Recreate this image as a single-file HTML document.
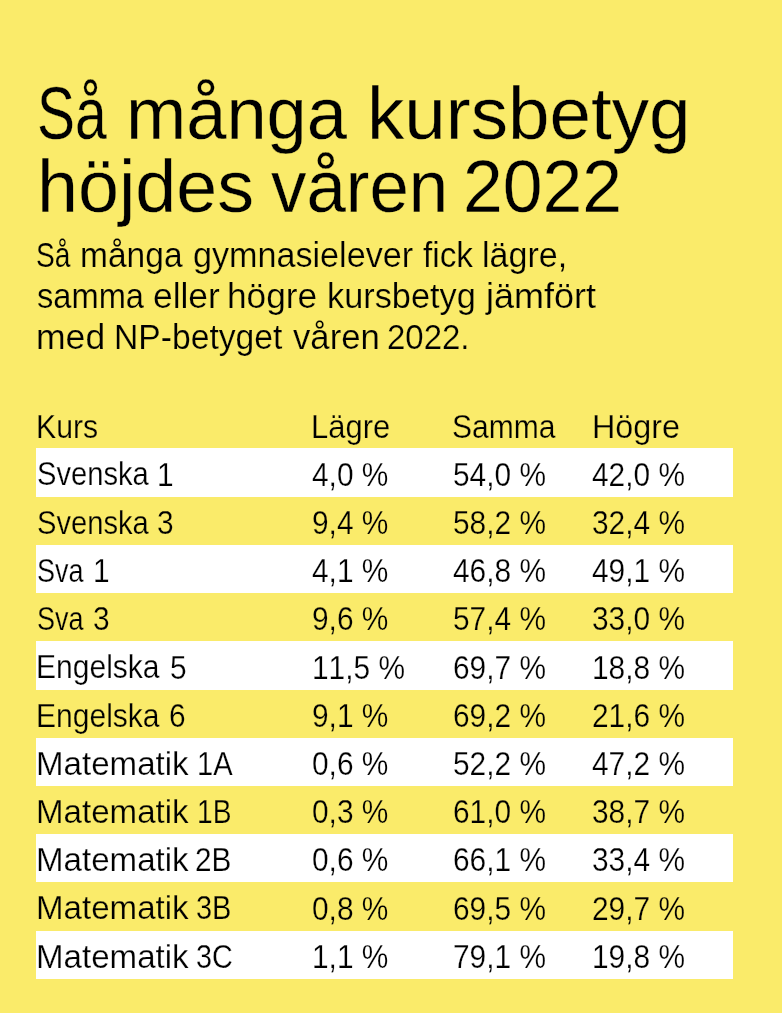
<!DOCTYPE html>
<html lang="sv"><head><meta charset="utf-8"><title>Så många kursbetyg höjdes våren 2022</title>
<style>
html,body{margin:0;padding:0}
body{width:782px;height:1013px;background:#faeb6a;position:relative;overflow:hidden;font-family:"Liberation Sans", sans-serif;color:#000}
h1,p{margin:0;padding:0;font-weight:400;font-size:0}
h1{-webkit-text-stroke:0.3px #faeb6a}
p{-webkit-text-stroke:0.2px #faeb6a}
.t{position:absolute;white-space:nowrap;line-height:1;transform-origin:0 0;display:block;font-weight:400}
.n{font-kerning:none}
.tbl{position:absolute;left:0;top:0;font-size:0}
.row{position:absolute;left:36.0px;width:697.3px;height:48.45px;-webkit-text-stroke:0.25px #faeb6a}
.row.wh{background:#fff;-webkit-text-stroke-color:#fff}
.c{position:absolute;left:0;top:0}
</style></head><body>
<h1><span class="t" style="left:37.12px;top:76.97px;font-size:73.5px;transform:scaleX(0.7740)">Så</span> <span class="t" style="left:126.20px;top:76.97px;font-size:73.5px;transform:scaleX(0.9834)">många</span> <span class="t" style="left:367.27px;top:76.97px;font-size:73.5px;transform:scaleX(1.0150)">kursbetyg</span> <br>
<span class="t" style="left:36.89px;top:149.97px;font-size:73.5px;transform:scaleX(1.0017)">höjdes</span> <span class="t" style="left:271.36px;top:149.97px;font-size:73.5px;transform:scaleX(0.9635)">våren</span> <span class="t" style="left:463.41px;top:149.97px;font-size:73.5px;transform:scaleX(0.9724)">2022</span></h1>
<p><span class="t" style="left:36.42px;top:238.04px;font-size:34.2px;transform:scaleX(0.8246)">Så</span> <span class="t" style="left:80.17px;top:238.04px;font-size:34.2px;transform:scaleX(0.9808)">många</span> <span class="t" style="left:193.17px;top:238.04px;font-size:34.2px;transform:scaleX(0.9986)">gymnasielever</span> <span class="t" style="left:422.53px;top:238.04px;font-size:34.2px;transform:scaleX(0.9755)">fick</span> <span class="t" style="left:482.01px;top:238.04px;font-size:34.2px;transform:scaleX(0.9957)">lägre,</span> <br>
<span class="t" style="left:36.79px;top:278.64px;font-size:34.2px;transform:scaleX(0.9548)">samma</span> <span class="t" style="left:153.10px;top:278.64px;font-size:34.2px;transform:scaleX(1.0338)">eller</span> <span class="t" style="left:227.45px;top:278.64px;font-size:34.2px;transform:scaleX(1.0317)">högre</span> <span class="t" style="left:327.39px;top:278.64px;font-size:34.2px;transform:scaleX(1.0034)">kursbetyg</span> <span class="t" style="left:485.58px;top:278.64px;font-size:34.2px;transform:scaleX(1.0536)">jämfört</span> <br>
<span class="t" style="left:36.04px;top:320.24px;font-size:34.2px;transform:scaleX(1.0398)">med</span> <span class="t" style="left:114.24px;top:320.24px;font-size:34.2px;transform:scaleX(0.9847)">NP-betyget</span> <span class="t" style="left:292.98px;top:320.24px;font-size:34.2px;transform:scaleX(1.0147)">våren</span> <span class="t" style="left:387.34px;top:320.24px;font-size:34.2px;transform:scaleX(0.9640)">2022.</span></p>
<div class="tbl">
<div class="row hd" style="top:399.97px"><div class="c"><span class="t" style="left:-0.18px;top:9.60px;font-size:33.7px;transform:scaleX(0.8961)">Kurs</span></div> <div class="c"><span class="t" style="left:275.26px;top:9.60px;font-size:33.7px;transform:scaleX(0.9194)">Lägre</span></div> <div class="c"><span class="t" style="left:416.44px;top:9.60px;font-size:33.7px;transform:scaleX(0.8914)">Samma</span></div> <div class="c"><span class="t" style="left:556.15px;top:9.60px;font-size:33.7px;transform:scaleX(0.9601)">Högre</span></div></div>
<div class="row wh" style="top:448.20px"><div class="c"><span class="t" style="left:0.88px;top:9.27px;font-size:33.7px;transform:scaleX(0.8655)">Svenska</span> <span class="t" style="left:121.12px;top:10.45px;font-size:32.3px;transform:scaleX(0.9248)">1</span></div> <div class="c"><span class="t n" style="left:275.88px;top:10.45px;font-size:32.3px;transform:scaleX(0.9248)">4,0 %</span></div> <div class="c"><span class="t n" style="left:417.40px;top:10.45px;font-size:32.3px;transform:scaleX(0.9248)">54,0 %</span></div> <div class="c"><span class="t n" style="left:556.31px;top:10.45px;font-size:32.3px;transform:scaleX(0.9248)">42,0 %</span></div></div>
<div class="row" style="top:496.43px"><div class="c"><span class="t" style="left:0.88px;top:9.26px;font-size:33.7px;transform:scaleX(0.8655)">Svenska</span> <span class="t" style="left:121.06px;top:10.44px;font-size:32.3px;transform:scaleX(0.9248)">3</span></div> <div class="c"><span class="t n" style="left:275.88px;top:10.44px;font-size:32.3px;transform:scaleX(0.9248)">9,4 %</span></div> <div class="c"><span class="t n" style="left:417.40px;top:10.44px;font-size:32.3px;transform:scaleX(0.9248)">58,2 %</span></div> <div class="c"><span class="t n" style="left:556.31px;top:10.44px;font-size:32.3px;transform:scaleX(0.9248)">32,4 %</span></div></div>
<div class="row wh" style="top:544.66px"><div class="c"><span class="t" style="left:0.97px;top:9.25px;font-size:33.7px;transform:scaleX(0.8015)">Sva</span> <span class="t" style="left:57.02px;top:10.43px;font-size:32.3px;transform:scaleX(0.9248)">1</span></div> <div class="c"><span class="t n" style="left:275.88px;top:10.43px;font-size:32.3px;transform:scaleX(0.9248)">4,1 %</span></div> <div class="c"><span class="t n" style="left:417.40px;top:10.43px;font-size:32.3px;transform:scaleX(0.9248)">46,8 %</span></div> <div class="c"><span class="t n" style="left:556.31px;top:10.43px;font-size:32.3px;transform:scaleX(0.9248)">49,1 %</span></div></div>
<div class="row" style="top:592.89px"><div class="c"><span class="t" style="left:0.97px;top:9.24px;font-size:33.7px;transform:scaleX(0.8015)">Sva</span> <span class="t" style="left:57.16px;top:10.42px;font-size:32.3px;transform:scaleX(0.9248)">3</span></div> <div class="c"><span class="t n" style="left:275.88px;top:10.42px;font-size:32.3px;transform:scaleX(0.9248)">9,6 %</span></div> <div class="c"><span class="t n" style="left:417.40px;top:10.42px;font-size:32.3px;transform:scaleX(0.9248)">57,4 %</span></div> <div class="c"><span class="t n" style="left:556.31px;top:10.42px;font-size:32.3px;transform:scaleX(0.9248)">33,0 %</span></div></div>
<div class="row wh" style="top:641.12px"><div class="c"><span class="t" style="left:0.04px;top:9.23px;font-size:33.7px;transform:scaleX(0.8916)">Engelska</span> <span class="t" style="left:133.90px;top:10.41px;font-size:32.3px;transform:scaleX(0.9248)">5</span></div> <div class="c"><span class="t n" style="left:275.88px;top:10.41px;font-size:32.3px;transform:scaleX(0.9248)">11,5 %</span></div> <div class="c"><span class="t n" style="left:417.40px;top:10.41px;font-size:32.3px;transform:scaleX(0.9248)">69,7 %</span></div> <div class="c"><span class="t n" style="left:556.31px;top:10.41px;font-size:32.3px;transform:scaleX(0.9248)">18,8 %</span></div></div>
<div class="row" style="top:689.35px"><div class="c"><span class="t" style="left:0.04px;top:9.22px;font-size:33.7px;transform:scaleX(0.8916)">Engelska</span> <span class="t" style="left:132.68px;top:10.40px;font-size:32.3px;transform:scaleX(0.9248)">6</span></div> <div class="c"><span class="t n" style="left:275.88px;top:10.40px;font-size:32.3px;transform:scaleX(0.9248)">9,1 %</span></div> <div class="c"><span class="t n" style="left:417.40px;top:10.40px;font-size:32.3px;transform:scaleX(0.9248)">69,2 %</span></div> <div class="c"><span class="t n" style="left:556.31px;top:10.40px;font-size:32.3px;transform:scaleX(0.9248)">21,6 %</span></div></div>
<div class="row wh" style="top:737.58px"><div class="c"><span class="t" style="left:-0.42px;top:9.21px;font-size:33.7px;transform:scaleX(0.9826)">Matematik</span> <span class="t" style="left:161.18px;top:9.21px;font-size:33.7px;transform:scaleX(0.8633)">1A</span></div> <div class="c"><span class="t n" style="left:275.88px;top:10.39px;font-size:32.3px;transform:scaleX(0.9248)">0,6 %</span></div> <div class="c"><span class="t n" style="left:417.40px;top:10.39px;font-size:32.3px;transform:scaleX(0.9248)">52,2 %</span></div> <div class="c"><span class="t n" style="left:556.31px;top:10.39px;font-size:32.3px;transform:scaleX(0.9248)">47,2 %</span></div></div>
<div class="row" style="top:785.81px"><div class="c"><span class="t" style="left:-0.42px;top:9.20px;font-size:33.7px;transform:scaleX(0.9826)">Matematik</span> <span class="t" style="left:161.26px;top:9.20px;font-size:33.7px;transform:scaleX(0.8356)">1B</span></div> <div class="c"><span class="t n" style="left:275.88px;top:10.38px;font-size:32.3px;transform:scaleX(0.9248)">0,3 %</span></div> <div class="c"><span class="t n" style="left:417.40px;top:10.38px;font-size:32.3px;transform:scaleX(0.9248)">61,0 %</span></div> <div class="c"><span class="t n" style="left:556.31px;top:10.38px;font-size:32.3px;transform:scaleX(0.9248)">38,7 %</span></div></div>
<div class="row wh" style="top:834.04px"><div class="c"><span class="t" style="left:-0.42px;top:9.19px;font-size:33.7px;transform:scaleX(0.9826)">Matematik</span> <span class="t" style="left:159.40px;top:9.19px;font-size:33.7px;transform:scaleX(0.8825)">2B</span></div> <div class="c"><span class="t n" style="left:275.88px;top:10.37px;font-size:32.3px;transform:scaleX(0.9248)">0,6 %</span></div> <div class="c"><span class="t n" style="left:417.40px;top:10.37px;font-size:32.3px;transform:scaleX(0.9248)">66,1 %</span></div> <div class="c"><span class="t n" style="left:556.31px;top:10.37px;font-size:32.3px;transform:scaleX(0.9248)">33,4 %</span></div></div>
<div class="row" style="top:882.27px"><div class="c"><span class="t" style="left:-0.42px;top:9.18px;font-size:33.7px;transform:scaleX(0.9826)">Matematik</span> <span class="t" style="left:160.30px;top:9.18px;font-size:33.7px;transform:scaleX(0.8599)">3B</span></div> <div class="c"><span class="t n" style="left:275.88px;top:10.36px;font-size:32.3px;transform:scaleX(0.9248)">0,8 %</span></div> <div class="c"><span class="t n" style="left:417.40px;top:10.36px;font-size:32.3px;transform:scaleX(0.9248)">69,5 %</span></div> <div class="c"><span class="t n" style="left:556.31px;top:10.36px;font-size:32.3px;transform:scaleX(0.9248)">29,7 %</span></div></div>
<div class="row wh" style="top:930.50px"><div class="c"><span class="t" style="left:-0.42px;top:9.17px;font-size:33.7px;transform:scaleX(0.9826)">Matematik</span> <span class="t" style="left:160.30px;top:9.17px;font-size:33.7px;transform:scaleX(0.8544)">3C</span></div> <div class="c"><span class="t n" style="left:275.88px;top:10.35px;font-size:32.3px;transform:scaleX(0.9248)">1,1 %</span></div> <div class="c"><span class="t n" style="left:417.40px;top:10.35px;font-size:32.3px;transform:scaleX(0.9248)">79,1 %</span></div> <div class="c"><span class="t n" style="left:556.31px;top:10.35px;font-size:32.3px;transform:scaleX(0.9248)">19,8 %</span></div></div>
</div>
</body></html>
